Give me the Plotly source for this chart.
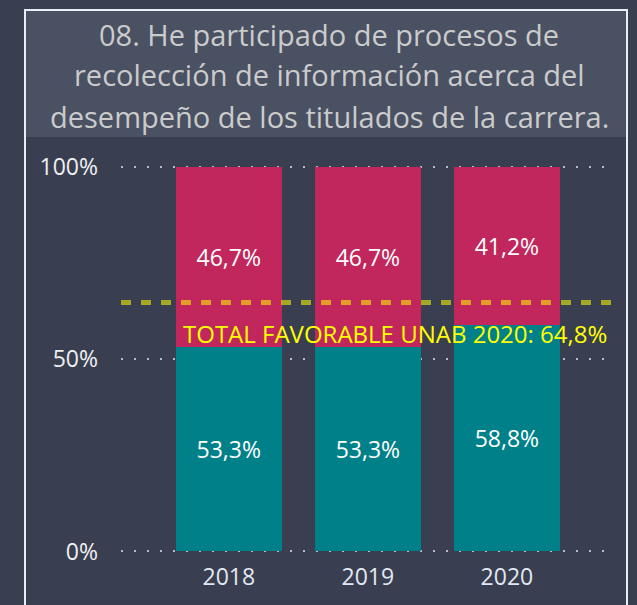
import plotly.graph_objects as go

years = ["2018", "2019", "2020"]
favorable = [0.533, 0.533, 0.588]
unfavorable = [0.467, 0.467, 0.412]
favorable_labels = ["53,3%", "53,3%", "58,8%"]
unfavorable_labels = ["46,7%", "46,7%", "41,2%"]
benchmark = 0.648
benchmark_label = "TOTAL FAVORABLE UNAB 2020: 64,8%"
title_lines = ["08. He participado de procesos de",
               "recolección de información acerca del",
               "desempeño de los titulados de la carrera."]
y_tickvals = [0, 0.5, 1]
y_ticktext = ["0%", "50%", "100%"]

W, H = 637, 605
L, R, T, B = 121, 614, 166, 553
FONT = "Segoe UI, Open Sans, sans-serif"


def px(x):
    return (x - L) / (R - L)


def py(y):
    return (B - y) / (B - T)


fig = go.Figure()
fig.add_trace(go.Bar(x=years, y=favorable, text=favorable_labels, name="Favorable",
                     marker=dict(color="#00818a", line=dict(width=0)),
                     textposition="inside", insidetextanchor="middle", textangle=0,
                     textfont=dict(color="#ffffff", size=23, family=FONT),
                     hoverinfo="skip"))
fig.add_trace(go.Bar(x=years, y=unfavorable, text=unfavorable_labels, name="Desfavorable",
                     marker=dict(color="#c1275c", line=dict(width=0)),
                     textposition="inside", insidetextanchor="middle", textangle=0,
                     textfont=dict(color="#ffffff", size=23, family=FONT),
                     hoverinfo="skip"))

shapes = [
    # outer border
    dict(type="rect", xref="paper", yref="paper", x0=px(25), x1=px(627), y0=py(640), y1=py(10),
         line=dict(color="#e8eef8", width=2), fillcolor="rgba(0,0,0,0)", layer="above"),
    # title band
    dict(type="rect", xref="paper", yref="paper", x0=px(26), x1=px(626), y0=py(137), y1=py(11),
         line=dict(width=0), fillcolor="#4a5163", layer="below"),
    # benchmark line
    dict(type="line", xref="paper", yref="y", x0=0, x1=1, y0=benchmark, y1=benchmark,
         line=dict(color="rgba(255,255,0,0.55)", width=5, dash="10px,10px"), layer="above"),
]

annotations = []
for line, cy in zip(title_lines, [35, 75, 116]):
    annotations.append(dict(text=line, xref="paper", yref="paper", x=px(329), y=py(cy),
                            xanchor="center", yanchor="middle", showarrow=False,
                            font=dict(family=FONT, size=29, color="#cbcbcb")))
annotations.append(dict(text=benchmark_label, xref="paper", yref="paper", x=px(609), y=py(333),
                        xanchor="right", yanchor="middle", showarrow=False,
                        font=dict(family=FONT, size=24, color="#ffff00")))

fig.update_layout(
    width=W, height=H,
    margin=dict(l=L, r=W - R, t=T, b=H - B, pad=0),
    paper_bgcolor="#393f51", plot_bgcolor="#393f51",
    barmode="stack", bargap=0.24, showlegend=False,
    shapes=shapes, annotations=annotations,
    font=dict(family=FONT),
    xaxis=dict(range=[-0.775, 2.77], showgrid=False, zeroline=False, showline=False,
               ticks="", ticklabelstandoff=8,
               tickfont=dict(size=23, color="#e2e8f2", family=FONT)),
    yaxis=dict(range=[-0.004, 1.003], tickvals=y_tickvals, ticktext=y_ticktext,
               showgrid=True, gridcolor="#b8bcc8", griddash="2px,11px", gridwidth=1.5,
               zeroline=False, showline=False, ticks="", ticklabelstandoff=22,
               tickfont=dict(size=23, color="#f0f0f0", family=FONT)),
)

fig.write_html("out.html", config={"displayModeBar": False},
               post_script="document.body.style.margin='0';document.body.style.padding='0';")
